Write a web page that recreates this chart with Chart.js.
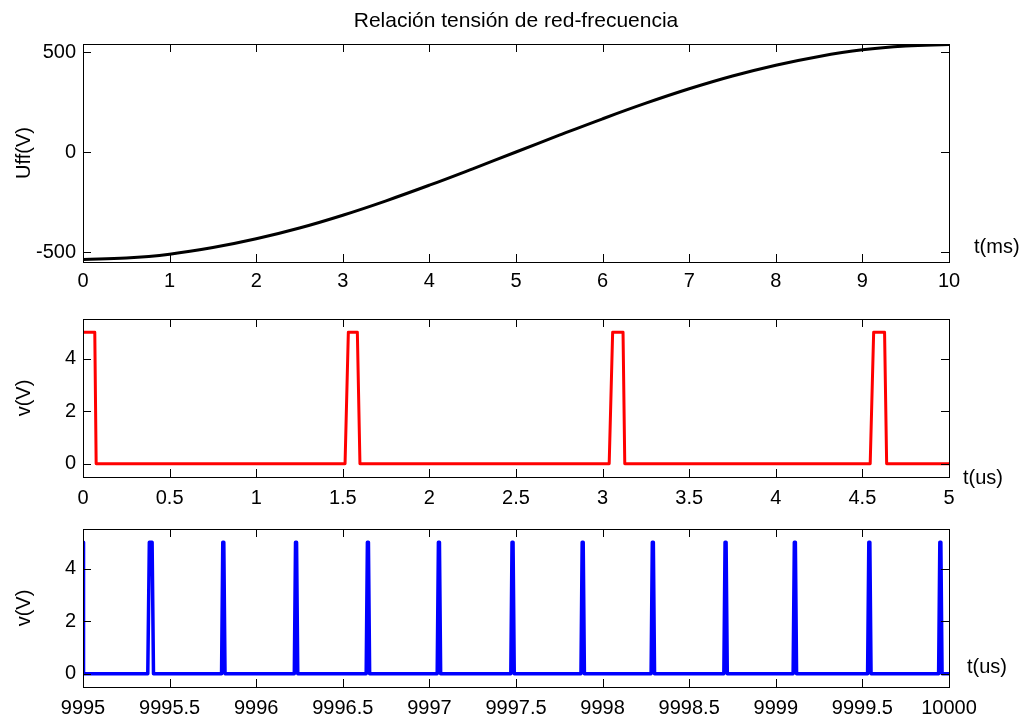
<!DOCTYPE html>
<html lang="es">
<head>
<meta charset="UTF-8">
<title>Relación tensión de red-frecuencia</title>
<script src="https://cdn.jsdelivr.net/npm/chart.js"></script>
<style>
  body { margin: 0; background: #fff; width: 1028px; height: 718px; position: relative; overflow: hidden; }
  canvas { position: absolute; left: 0; }
</style>
</head>
<body>
<canvas id="c1" width="1028" height="300" style="top:0"></canvas>
<canvas id="c2" width="1028" height="210" style="top:300px"></canvas>
<canvas id="c3" width="1028" height="208" style="top:510px"></canvas>

<script>
// panel 1: grid voltage over one half period (ms)
const t1 = [0, 0.5, 1, 1.5, 2, 2.5, 3, 3.5, 4, 4.5, 5, 5.5, 6, 6.5, 7, 7.5, 8, 8.5, 9, 9.5, 10];
const uff = [-537, -530, -511, -478, -434, -380, -316, -244, -166, -84, 0, 84, 166, 244, 316, 380, 434, 478, 511, 530, 538];
const xTicks1 = [0, 1, 2, 3, 4, 5, 6, 7, 8, 9, 10];
const yTicks1 = [-500, 0, 500];

// panel 2: pulses at the start (us)
const t2 = [0, 0.068, 0.076, 1.513, 1.532, 1.584, 1.599, 3.038, 3.058, 3.118, 3.128, 4.545, 4.565, 4.628, 4.64, 5];
const v2 = [5, 5, 0, 0, 5, 5, 0, 0, 5, 5, 0, 0, 5, 5, 0, 0];
const xTicks2 = [0, 0.5, 1, 1.5, 2, 2.5, 3, 3.5, 4, 4.5, 5];
const yTicksV = [0, 2, 4];

// panel 3: pulses near the end (us)
const t3 = [9995, 9995.003,
  9995.374, 9995.383, 9995.399, 9995.407,
  9995.800, 9995.807, 9995.813, 9995.820,
  9996.220, 9996.227, 9996.233, 9996.240,
  9996.635, 9996.642, 9996.648, 9996.655,
  9997.045, 9997.052, 9997.058, 9997.065,
  9997.470, 9997.477, 9997.483, 9997.490,
  9997.875, 9997.882, 9997.888, 9997.895,
  9998.280, 9998.287, 9998.293, 9998.300,
  9998.700, 9998.707, 9998.713, 9998.720,
  9999.100, 9999.107, 9999.113, 9999.120,
  9999.530, 9999.537, 9999.543, 9999.550,
  9999.940, 9999.947, 9999.953, 9999.960,
  10000];
const v3 = [5, 0,
  0, 5, 5, 0,  0, 5, 5, 0,  0, 5, 5, 0,  0, 5, 5, 0,
  0, 5, 5, 0,  0, 5, 5, 0,  0, 5, 5, 0,  0, 5, 5, 0,
  0, 5, 5, 0,  0, 5, 5, 0,  0, 5, 5, 0,  0, 5, 5, 0,
  0];
const xTicks3 = [9995, 9995.5, 9996, 9996.5, 9997, 9997.5, 9998, 9998.5, 9999, 9999.5, 10000];

Chart.defaults.font.family = '"Liberation Sans", Arial, sans-serif';
Chart.defaults.font.size = 20;
Chart.defaults.color = '#000';

// matlab style box with inward ticks on every side, plus the unit text
const frame = {
  id: 'frame',
  afterDraw(chart, args, opts) {
    const { ctx, chartArea: a, scales: { x, y } } = chart;
    ctx.save();
    ctx.strokeStyle = '#000';
    ctx.lineWidth = 1;
    ctx.beginPath();
    x.ticks.forEach(tk => {
      const px = Math.round(x.getPixelForValue(tk.value)) + 0.5;
      ctx.moveTo(px, a.bottom); ctx.lineTo(px, a.bottom - 8);
      ctx.moveTo(px, a.top); ctx.lineTo(px, a.top + 8);
    });
    y.ticks.forEach(tk => {
      const py = Math.round(y.getPixelForValue(tk.value)) + 0.5;
      ctx.moveTo(a.left, py); ctx.lineTo(a.left + 8, py);
      ctx.moveTo(a.right, py); ctx.lineTo(a.right - 8, py);
    });
    ctx.stroke();
    ctx.strokeRect(Math.round(a.left) + 0.5, Math.round(a.top) + 0.5,
      Math.round(a.right - a.left), Math.round(a.bottom - a.top));
    ctx.fillStyle = '#000';
    ctx.font = '20px "Liberation Sans", Arial, sans-serif';
    ctx.textBaseline = 'middle';
    ctx.fillText(opts.text, opts.x, opts.y);
    ctx.restore();
  }
};

function makeChart(id, xs, ys, color, o) {
  return new Chart(document.getElementById(id), {
    type: 'line',
    data: {
      datasets: [{
        data: xs.map((v, i) => ({ x: v, y: ys[i] })),
        borderColor: color,
        borderWidth: o.lw || 3,
        borderJoinStyle: 'round',
        borderCapStyle: 'round',
        pointRadius: 0,
        tension: o.tension || 0,
        fill: false
      }]
    },
    options: {
      responsive: false,
      animation: false,
      layout: { padding: { left: 0, right: 79, top: o.padTop, bottom: 0 } },
      plugins: {
        legend: { display: false },
        tooltip: { enabled: false },
        title: o.title ? {
          display: true,
          fullSize: false,
          text: o.title,
          font: { size: 21, weight: 'normal' },
          padding: { top: 8.5, bottom: 10.3 }
        } : { display: false },
        frame: o.unit
      },
      scales: {
        x: {
          type: 'linear',
          min: o.xTicks[0],
          max: o.xTicks[o.xTicks.length - 1],
          grid: { display: false, drawTicks: false },
          border: { display: false },
          afterBuildTicks: s => { s.ticks = o.xTicks.map(v => ({ value: v })); },
          afterFit: s => { s.height = o.xh; },
          ticks: { padding: o.xpad, maxRotation: 0, autoSkip: false, callback: v => String(v) }
        },
        y: {
          min: o.ymin,
          max: o.ymax,
          grid: { display: false, drawTicks: false },
          border: { display: false },
          afterBuildTicks: s => { s.ticks = o.yTicks.map(v => ({ value: v })); },
          afterFit: s => { s.width = 83; },
          ticks: { padding: 7, callback: v => String(v) },
          title: { display: true, text: o.ylabel, padding: { top: 12, bottom: 0 } }
        }
      }
    },
    plugins: [frame]
  });
}

makeChart('c1', t1, uff, '#000', {
  title: 'Relación tensión de red-frecuencia', tension: 0.4,
  padTop: 0, xh: 38, xpad: 7, xTicks: xTicks1, yTicks: yTicks1,
  ymin: -550, ymax: 540, ylabel: 'Uff(V)',
  unit: { text: 't(ms)', x: 974, y: 247 }
});
makeChart('c2', t2, v2, '#ff0000', {
  padTop: 12, xh: 33, xpad: 9, xTicks: xTicks2, yTicks: yTicksV,
  ymin: -0.5, ymax: 5.5, ylabel: 'v(V)',
  unit: { text: 't(us)', x: 963, y: 178 }
});
makeChart('c3', t3, v3, '#0000ff', {
  padTop: 13, xh: 31, xpad: 9, xTicks: xTicks3, yTicks: yTicksV, lw: 3.5,
  ymin: -0.5, ymax: 5.5, ylabel: 'v(V)',
  unit: { text: 't(us)', x: 967, y: 157 }
});
</script>
</body>
</html>
